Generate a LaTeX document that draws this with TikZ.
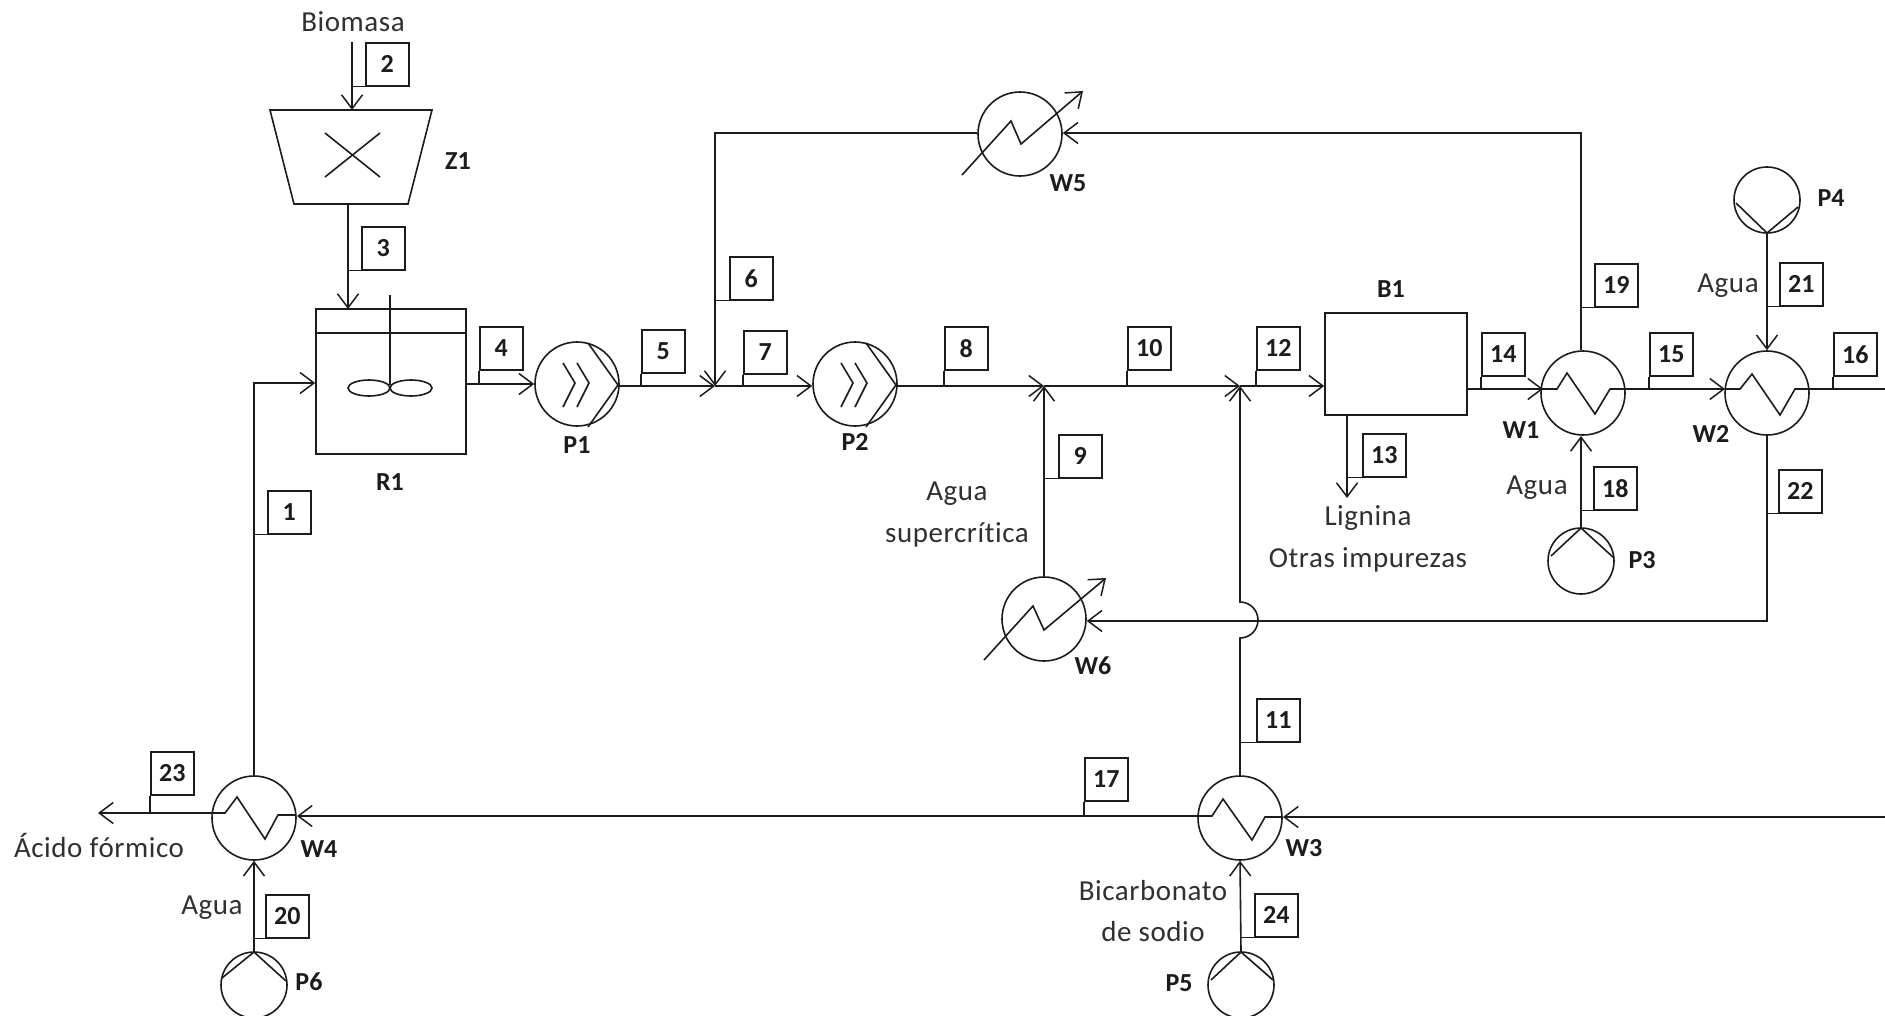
\documentclass[tikz,border=0pt]{standalone}
\usepackage{fontspec}
\setmainfont{Carlito}
\newfontfamily\txtfont[LetterSpace=2,Ligatures=NoCommon]{Carlito}
\usetikzlibrary{arrows.meta,calc}
\definecolor{ink}{HTML}{1C1C1C}
\definecolor{txt}{HTML}{303030}
\tikzset{
  flow/.style={draw=ink,-{Straight Barb[length=14pt,width=21pt,line width=1.5pt]}},
  plain/.style={draw=ink},
  hx/.style={draw=ink,circle,inner sep=0pt,minimum size=84pt},
  pumpc/.style={draw=ink,circle,inner sep=0pt,minimum size=66pt},
  tagbox/.style={draw=ink,rectangle,inner sep=0pt,minimum width=43pt,minimum height=43pt,anchor=north west,
     font=\fontsize{26}{30}\selectfont\bfseries,text=ink},
  lab/.style={font=\fontsize{26}{30}\selectfont\bfseries,text=ink,inner sep=0pt},
  note/.style={font=\txtfont\fontsize{29}{33}\selectfont,text=txt,inner sep=0pt},
}
\newcommand{\tg}[4]{\node[tagbox] (#1) at (#2,#3) {#4};}
\begin{document}
\begin{tikzpicture}[x=1pt,y=-1pt,line width=1.6pt,draw=ink]
\useasboundingbox (0,0) rectangle (1885,1015);
\fill[white] (0,0) rectangle (1885,1015);
\clip (0,0) rectangle (1885,1015);

% Equipment nodes
\node[draw=ink,rectangle,inner sep=0pt,minimum width=150pt,minimum height=145pt] (R1) at (391,381.5) {};
\node[draw=ink,rectangle,inner sep=0pt,minimum width=142pt,minimum height=102pt] (B1) at (1396,364) {};
\node[hx] (P1) at (577,384) {};
\node[hx] (P2) at (855,384) {};
\node[hx] (W1) at (1583,393) {};
\node[hx] (W2) at (1767,393) {};
\node[hx] (W3) at (1240,818) {};
\node[hx] (W4) at (254,818) {};
\node[hx] (W5) at (1020,134) {};
\node[hx] (W6) at (1044,619) {};
\node[pumpc] (P3) at (1581,561) {};
\node[pumpc] (P4) at (1767,200) {};
\node[pumpc] (P5) at (1241,985) {};
\node[pumpc] (P6) at (254,985) {};

% Shredder Z1
\draw (270,110) -- (432,110) -- (408,204) -- (294,204) -- cycle;
\coordinate (Ztop) at (352,110);
\coordinate (Zbot) at (348,204);
\draw (325,133) -- (380,177) (380,133) -- (325,177);

% Reactor internals
\draw (316,333) -- (466,333);
\draw (390,295) -- (390,385);
\draw (369,388) ellipse [x radius=21,y radius=8];
\draw (411,388) ellipse [x radius=21,y radius=8];

% Pump internals
\draw (588,343) -- (618,385) -- (588,427);
\draw (563,363) -- (575,383) -- (563,407);
\draw (577,363) -- (589,383) -- (577,407);
\draw (866,343) -- (896,385) -- (866,427);
\draw (841,363) -- (853,383) -- (841,407);
\draw (855,363) -- (867,383) -- (855,407);
\draw (1736,203) -- (1767,233) -- (1798,207);
\draw (1551,556) -- (1581,528) -- (1614,558);
\draw (1211,980) -- (1241,952) -- (1273,980);
\draw (222,978) -- (254,952) -- (286,981);

% Exchanger coils
\draw (1542,389) -- (1557,389) -- (1567,373) -- (1595,414) -- (1610,389) -- (1625,389);
\draw (1726,389) -- (1740,389) -- (1752,374) -- (1780,415) -- (1795,389) -- (1809,389);
\draw (1198,816) -- (1212,816) -- (1223,799) -- (1252,840) -- (1265,817) -- (1282,817);
\draw (212,813) -- (225,813) -- (237,797) -- (265,839) -- (278,815) -- (296,815);
\draw[flow] (962,175) -- (1011,121) -- (1021,144) -- (1083,91);
\draw[flow] (984,660) -- (1033,606) -- (1044,630) -- (1106,578);

% Free ends and junctions
\coordinate (Bio) at (352,42);
\coordinate (Z3) at (348,309);
\coordinate (J5) at (715,386);
\coordinate (J8) at (1044,386);
\coordinate (J10) at (1240,386);
\coordinate (T1) at (254,383);
\coordinate (T4) at (466,384);
\coordinate (T6) at (715,133);
\coordinate (T19) at (1581,133);
\coordinate (T22) at (1767,621);
\coordinate (E16) at (1885,389);
\coordinate (E17) at (1885,817);
\coordinate (S17) at (1198,816);
\coordinate (Out23) at (98,813);
\coordinate (Out13) at (1347,498);
\coordinate (HopA) at (1240,638);

% Connectors
\draw[flow] (Bio) -- (Ztop);
\draw[flow] (Zbot) -- (Z3);
\draw[flow] (W4.north) -- (T1) -- (R1.west |- T1);
\draw[flow] (T4) -- (P1.west);
\draw[flow] (618,386) -- (J5);
\draw[flow] (W5.west |- T6) -- (T6) -- (J5);
\draw[flow] (J5) -- (P2.west |- J5);
\draw[flow] (896,386) -- (J8);
\draw[flow] (W6.north) -- (J8);
\draw[flow] (J8) -- (J10);
\draw[flow] (J10) -- (B1.west |- J10);
\draw[flow] (W3.north) -- (HopA) arc[start angle=90,end angle=-90,radius=18] -- (J10);
\draw[flow] (1347,415) -- (Out13);
\draw[flow] (B1.east |- E16) -- (1543,389);
\draw[flow] (T19 |- W1.north) -- (T19) -- (W5.east |- T19);
\draw[flow] (P3.north) -- (1581,436);
\draw[flow] (1625,389) -- (1725,389);
\draw[plain] (1809,389) -- (E16);
\draw[flow] (P4.south) -- (W2.north);
\draw[flow] (W2.south) -- (T22) -- (W6.east |- T22);
\draw[flow] (E17) -- (1283,817);
\draw[flow] (S17) -- (297,816);
\draw[flow] (212,813) -- (Out23);
\draw[flow] (P6.north) -- (W4.south);
\draw[flow] (P5.north) -- (W3.south);

% Stream tags
\tg{t1}{267}{490}{1}
\tg{t2}{365}{42}{2}
\tg{t3}{361}{226}{3}
\tg{t4}{479}{326}{4}
\tg{t5}{641}{329}{5}
\tg{t6}{729}{256}{6}
\tg{t7}{743}{330}{7}
\tg{t8}{944}{326}{8}
\tg{t9}{1058}{434}{9}
\tg{t10}{1127}{326}{10}
\tg{t11}{1256}{698}{11}
\tg{t12}{1256}{326}{12}
\tg{t13}{1362}{433}{13}
\tg{t14}{1481}{332}{14}
\tg{t15}{1649}{332}{15}
\tg{t16}{1833}{332}{16}
\tg{t17}{1084}{757}{17}
\tg{t18}{1593}{466}{18}
\tg{t19}{1594}{263}{19}
\tg{t20}{265}{894}{20}
\tg{t21}{1779}{262}{21}
\tg{t22}{1778}{469}{22}
\tg{t23}{150}{751}{23}
\tg{t24}{1254}{893}{24}

% Tag stems
\draw (t1.south west) -- (t1.south west -| T1);
\draw (t2.south west) -- (t2.south west -| Bio);
\draw (t3.south west) -- (t3.south west -| Zbot);
\draw (t4.south west) -- (t4.south west |- T4);
\draw (t5.south west) -- (t5.south west |- J5);
\draw (t6.south west) -- (t6.south west -| J5);
\draw (t7.south west) -- (t7.south west |- J5);
\draw (t8.south west) -- (t8.south west |- J5);
\draw (t9.south west) -- (t9.south west -| J8);
\draw (t10.south west) -- (t10.south west |- J8);
\draw (t11.south west) -- (t11.south west -| J10);
\draw (t12.south west) -- (t12.south west |- J10);
\draw (t13.south west) -- (t13.south west -| Out13);
\draw (t14.south west) -- (t14.south west |- E16);
\draw (t15.south west) -- (t15.south west |- E16);
\draw (t16.south west) -- (t16.south west |- E16);
\draw (t17.south west) -- (t17.south west |- S17);
\draw (t18.south west) -- (t18.south west -| T19);
\draw (t19.south west) -- (t19.south west -| T19);
\draw (t20.south west) -- (t20.south west -| T1);
\draw (t21.south west) -- (t21.south west -| T22);
\draw (t22.south west) -- (t22.south west -| T22);
\draw (t23.south west) -- (t23.south west |- Out23);
\draw (t24.south west) -- (t24.south west -| P5.north);

% Equipment labels
\node[lab] (lZ1) at (458,161) {Z1};
\node[lab] (lR1) at (390,482) {R1};
\node[lab] (lP1) at (577,445) {P1};
\node[lab] (lP2) at (855,442) {P2};
\node[lab] (lB1) at (1391,289) {B1};
\node[lab] (lW1) at (1521,430) {W1};
\node[lab] (lW2) at (1711,434) {W2};
\node[lab] (lW3) at (1304,848) {W3};
\node[lab] (lW4) at (319,849) {W4};
\node[lab] (lW5) at (1068,183) {W5};
\node[lab] (lW6) at (1093,666) {W6};
\node[lab] (lP3) at (1642,560) {P3};
\node[lab] (lP4) at (1831,198) {P4};
\node[lab] (lP5) at (1179,983) {P5};
\node[lab] (lP6) at (309,982) {P6};

% Text notes
\node[note] (nBio) at (353,22) {Biomasa};
\node[note] (nAS1) at (957,494) {Agua};
\node[note] (nAS2) at (957,535) {supercrítica};
\node[note] (nLig) at (1368,518) {Lignina};
\node[note] (nOtr) at (1368,560) {Otras impurezas};
\node[note] (nA18) at (1537,488) {Agua};
\node[note] (nA21) at (1728,286) {Agua};
\node[note] (nA20) at (212,908) {Agua};
\node[note] (nAc) at (99,845) {Ácido fórmico};
\node[note] (nBic) at (1153,891) {Bicarbonato};
\node[note] (nSod) at (1153,932) {de sodio};
\end{tikzpicture}
\end{document}
